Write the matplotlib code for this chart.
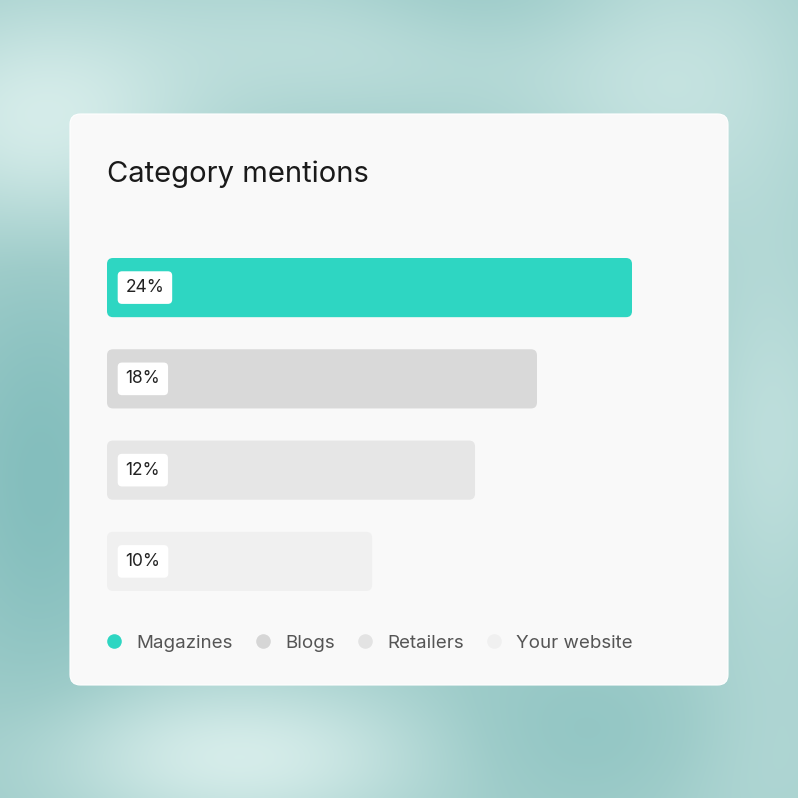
import numpy as np
import matplotlib
matplotlib.use("Agg")
import matplotlib.pyplot as plt
from matplotlib.patches import FancyBboxPatch
from matplotlib.lines import Line2D

# ---- data ----
title = "Category mentions"
categories = ["Magazines", "Blogs", "Retailers", "Your website"]
pct_labels = ["24%", "18%", "12%", "10%"]
# bar lengths as drawn (relative to the longest bar = 100)
bar_lengths = [100, 81.9, 70.1, 50.5]
colors = ["#2ed6c2", "#d9d9d9", "#e6e6e6", "#f0f0f0"]
legend_colors = ["#2ed6c2", "#d6d6d6", "#e3e3e3", "#f0f0f0"]

W = H = 798
fig = plt.figure(figsize=(W / 100, H / 100), dpi=100)

def fx(px):
    return px / W

def fy(py):
    return 1 - py / H

# ---- background ----
bg = fig.add_axes([0, 0, 1, 1])
bg.set_axis_off()
bg.set_zorder(0)
yy, xx = np.mgrid[0:1:400j, 0:1:400j]
base = np.array([0.62, 0.80, 0.79])
field = np.zeros_like(xx)
blobs = [  # (x, y, sx, sy, amp) amp>0 lighter, <0 darker
    (0.05, 0.15, 0.20, 0.15, 0.9),
    (0.45, 0.05, 0.25, 0.10, 0.5),
    (0.85, 0.10, 0.20, 0.20, 0.6),
    (0.05, 0.60, 0.12, 0.25, -0.6),
    (0.30, 0.95, 0.25, 0.10, 0.9),
    (0.75, 0.92, 0.20, 0.10, -0.3),
    (0.97, 0.55, 0.10, 0.25, 0.5),
    (0.95, 0.95, 0.15, 0.15, 0.3),
    (0.60, 0.00, 0.20, 0.08, -0.3),
]
for bx, by, sx, sy, a in blobs:
    field += a * np.exp(-(((xx - bx) / sx) ** 2 + ((yy - by) / sy) ** 2))
light = np.array([0.86, 0.94, 0.93])
dark = np.array([0.45, 0.71, 0.71])
img = np.empty(xx.shape + (3,))
for c in range(3):
    v = base[c] + np.clip(field, 0, None) * (light[c] - base[c]) - np.clip(-field, 0, None) * (base[c] - dark[c])
    img[..., c] = np.clip(v, 0, 1)
bg.imshow(img, extent=[0, 1, 0, 1], aspect="auto", interpolation="bilinear")
bg.set_xlim(0, 1)
bg.set_ylim(0, 1)

# ---- card ----
card = FancyBboxPatch((fx(70), fy(685)), fx(728) - fx(70), fy(114) - fy(685),
                      boxstyle="round,pad=0,rounding_size=0.013",
                      transform=fig.transFigure, fc="#f9f9f9", ec="#ffffff",
                      lw=0.8, zorder=1)
fig.patches.append(card)

fig.text(fx(107), fy(174), title, fontsize=21, family=["Inter", "DejaVu Sans"],
         color="#1a1a1a", va="center", ha="left", zorder=3)

# ---- bars ----
left_px, right_px = 107, 632
top_px, bot_px = 258, 591
ax = fig.add_axes([fx(left_px), fy(bot_px), fx(right_px) - fx(left_px), fy(top_px) - fy(bot_px)])
ax.set_axis_off()
ax.patch.set_alpha(0)
ax.set_zorder(2)
step_px = 91.0
bar_h = 59.0 / step_px
y = np.arange(len(categories))
bars = ax.barh(y, bar_lengths, height=bar_h, color=colors)
ax.set_xlim(0, 100)
half = bar_h / 2
ax.set_ylim(len(categories) - 1 + half, -half)

xunit_px = (right_px - left_px) / 100.0
rad_px = 6
for b in bars:
    x0, y0 = b.get_x(), b.get_y()
    w, h = b.get_width(), b.get_height()
    b.set_visible(False)
    p = FancyBboxPatch((x0, y0), w, h,
                       boxstyle=f"round,pad=0,rounding_size={rad_px / xunit_px}",
                       mutation_aspect=(1 / step_px) / (1 / xunit_px),
                       fc=b.get_facecolor(), ec="none", zorder=2, clip_on=False)
    ax.add_patch(p)

for yi, lab in zip(y, pct_labels):
    ax.text(18.5 / xunit_px, yi, lab, fontsize=12.5, family=["Inter", "DejaVu Sans"],
            color="#222222", va="center", ha="left", zorder=4,
            bbox=dict(boxstyle="round,pad=0.45,rounding_size=0.25", fc="white", ec="none"))

# ---- legend ----
handles = [Line2D([0], [0], marker="o", linestyle="none", markersize=10.5,
                  markerfacecolor=c, markeredgecolor="none") for c in legend_colors]
leg = fig.legend(handles, categories, loc="center left",
                 bbox_to_anchor=(fx(104.5), fy(643)), ncol=4, frameon=False,
                 prop={"family": ["Inter", "DejaVu Sans"], "size": 13.5},
                 handlelength=1.0, handletextpad=0.7, columnspacing=1.1,
                 borderpad=0, borderaxespad=0)
leg.set_zorder(5)
for t in leg.get_texts():
    t.set_color("#555555")

fig.savefig("out.png", dpi=100)
